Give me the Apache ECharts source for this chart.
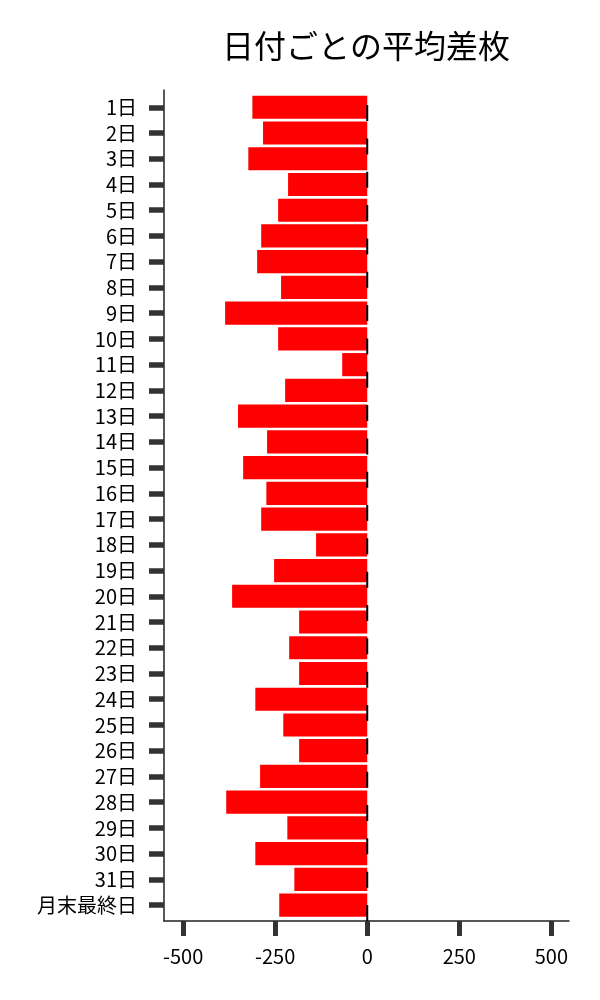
<!DOCTYPE html>
<html>
<head>
<meta charset="utf-8">
<script src="https://cdn.jsdelivr.net/npm/echarts@6/dist/echarts.min.js"></script>
<style>
html,body{margin:0;padding:0;background:#fff;}
#chart{width:600px;height:1000px;}
</style>
</head>
<body>
<div id="chart"></div>
<script>
const titleText = '日付ごとの平均差枚';
const categories = ['1日','2日','3日','4日','5日','6日','7日','8日','9日','10日','11日','12日','13日','14日','15日','16日','17日','18日','19日','20日','21日','22日','23日','24日','25日','26日','27日','28日','29日','30日','31日','月末最終日'];
const avgDiff = [-312,-283,-323,-215,-242,-288,-299,-234,-386,-242,-68,-223,-351,-272,-337,-274,-288,-139,-253,-367,-185,-212,-185,-304,-228,-185,-291,-383,-217,-304,-198,-239];
const xTicks = [-500,-250,0,250,500];
const refX = 0;

const font = '"Noto Sans CJK JP", "Noto Sans", sans-serif';
const xMin = -552, xMax = 548;

const chart = echarts.init(document.getElementById('chart'), null, {renderer:'canvas'});
chart.setOption({
  backgroundColor: '#ffffff',
  animation: false,
  title: {
    text: titleText,
    left: 361,
    top: 25,
    textAlign: 'center',
    textStyle: {fontFamily: font, fontSize: 32, fontWeight: 'normal', color: '#000'}
  },
  grid: [
    {left: 164, right: 31, top: 90, bottom: 79},
    {left: 164, right: 31, top: 94.4, bottom: 82}
  ],
  xAxis: [
    {
      type: 'value', gridIndex: 0, min: xMin, max: xMax,
      splitLine: {show: false},
      axisLine: {show: true, lineStyle: {color: '#222', width: 1.5}},
      axisTick: {show: true, length: 15, lineStyle: {color: '#333', width: 5},
                 customValues: xTicks},
      axisLabel: {show: true, margin: 25, fontFamily: font, fontSize: 20, color: '#000',
                  customValues: xTicks}
    },
    {
      type: 'value', gridIndex: 1, min: xMin, max: xMax, show: false
    }
  ],
  yAxis: [
    {
      type: 'value', gridIndex: 0, min: 0, max: 1,
      splitLine: {show: false},
      axisLine: {show: true, onZero: false, lineStyle: {color: '#222', width: 1.5}},
      axisTick: {show: false},
      axisLabel: {show: false}
    },
    {
      type: 'category', gridIndex: 1, data: categories, inverse: true,
      axisLine: {show: true, onZero: false, lineStyle: {color: 'rgba(0,0,0,0)', width: 0}},
      axisTick: {show: true, alignWithLabel: true, length: 15, lineStyle: {color: '#333', width: 5.5}},
      axisLabel: {show: true, margin: 27, fontFamily: font, fontSize: 20, color: '#000', interval: 0}
    }
  ],
  series: [
    {
      type: 'bar', xAxisIndex: 1, yAxisIndex: 1,
      data: avgDiff,
      barWidth: '90%',
      itemStyle: {color: '#ff0000'},
      silent: true,
      z: 2
    },
    {
      type: 'line', xAxisIndex: 0, yAxisIndex: 0,
      data: [[refX, 0], [refX, 1]],
      symbol: 'none',
      lineStyle: {color: '#000', width: 2, type: [16, 17.33], dashOffset: 0},
      silent: true,
      z: 5
    }
  ]
});
</script>
</body>
</html>
